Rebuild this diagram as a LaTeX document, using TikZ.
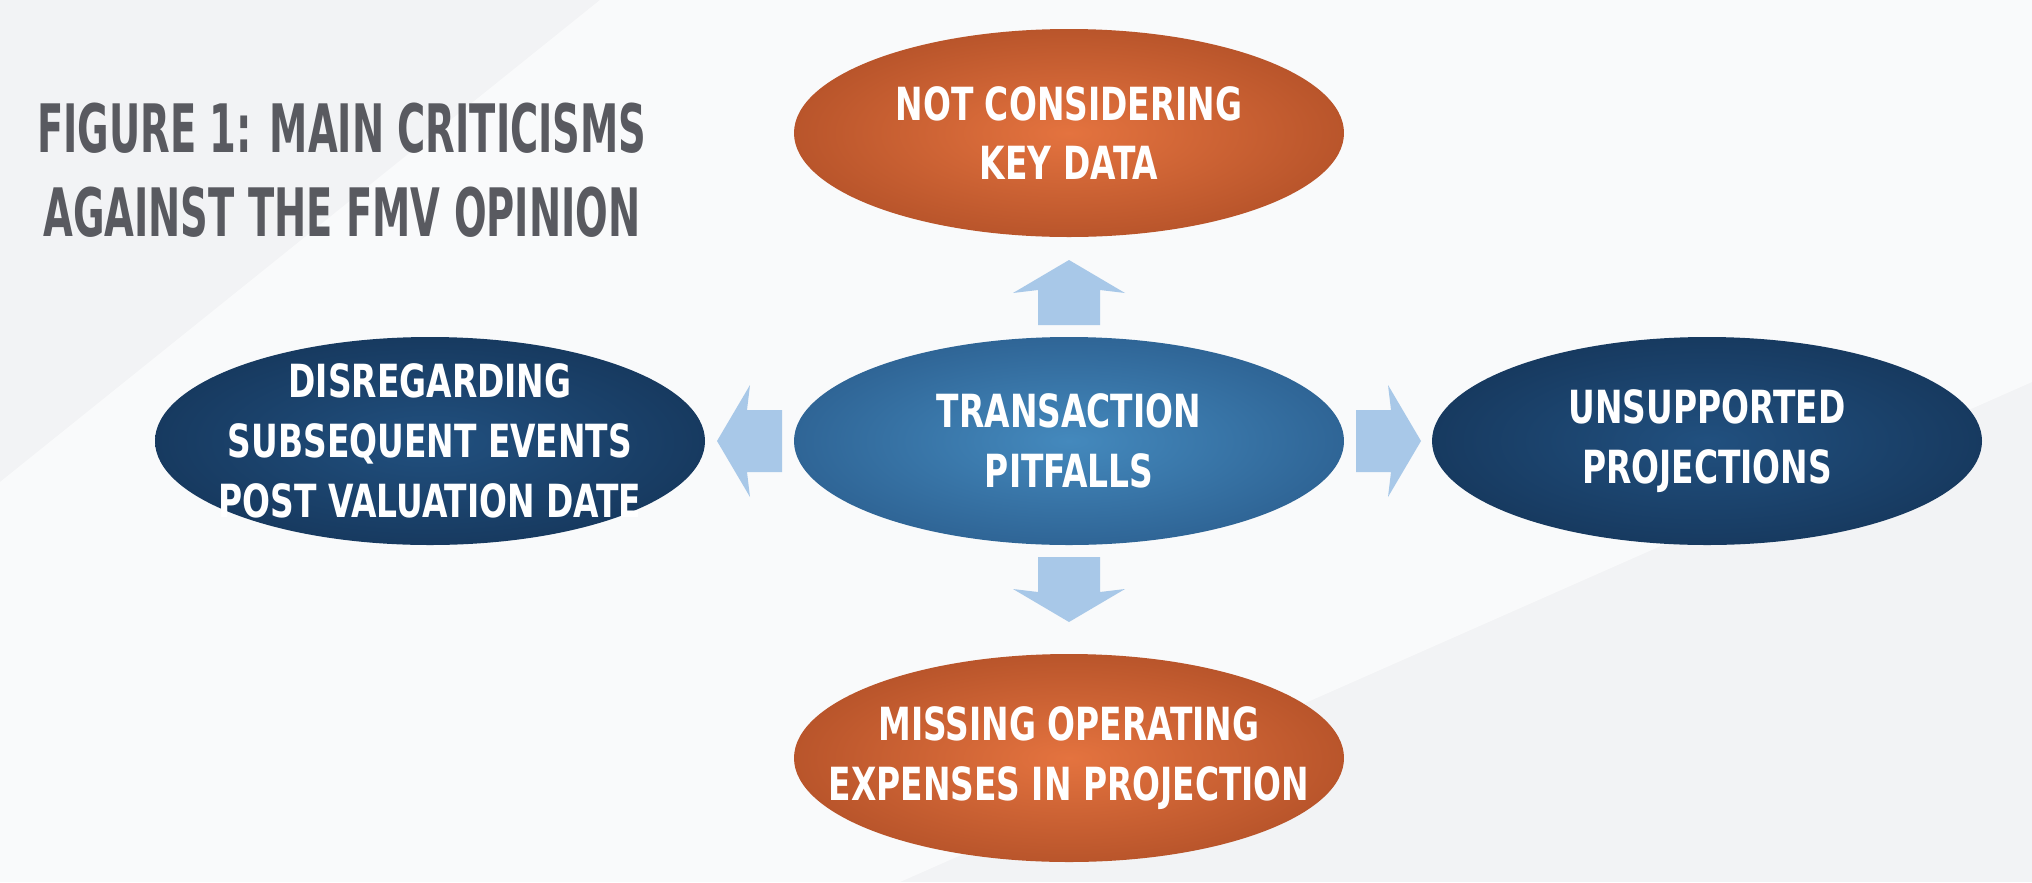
\documentclass[tikz,border=0pt]{standalone}
\usepackage{fontspec}
\setmainfont{DejaVu Sans Condensed}
\newfontfamily\bubblefont[FakeStretch=0.8]{DejaVu Sans Condensed}
\newfontfamily\titlefont[FakeStretch=0.64]{DejaVu Sans Condensed}
\definecolor{bgray}{HTML}{F2F3F5}
\definecolor{titlegray}{HTML}{595A60}
\definecolor{orangeC}{HTML}{E4733F}
\definecolor{orangeE}{HTML}{B9552B}
\definecolor{navyC}{HTML}{21507F}
\definecolor{navyE}{HTML}{173A60}
\definecolor{midC}{HTML}{4489BD}
\definecolor{midE}{HTML}{2F6596}
\definecolor{arrowblue}{HTML}{A8C8E8}
\tikzset{
  bubbletext/.style={align=center, text=white, inner sep=0pt,
    font=\bubblefont\bfseries\fontsize{13}{17}\selectfont},
  orangebubble/.style={inner color=orangeC, outer color=orangeE},
  navybubble/.style={inner color=navyC, outer color=navyE},
  midbubble/.style={inner color=midC, outer color=midE},
  blockarrow/.style={fill=arrowblue, draw=none}
}
\newcommand{\uparrowshape}{(-0.31,0) -- (-0.31,0.35) -- (-0.56,0.32) -- (0,0.65) -- (0.56,0.32) -- (0.31,0.35) -- (0.31,0) -- cycle}
\begin{document}
\begin{tikzpicture}
\useasboundingbox (0,0) rectangle (20.32,8.82);
\fill[bgray] (0,0) rectangle (20.32,8.82);
\fill[white, opacity=0.6] (0,4) -- (6,8.82) -- (20.32,8.82) -- (20.32,5) -- (9,0) -- (0,0) -- cycle;

\node[text=titlegray, font=\titlefont\bfseries\fontsize{19}{24}\selectfont, align=center] (title) at (3.42,7.12)
  {FIGURE 1: MAIN CRITICISMS\\AGAINST THE FMV OPINION};

\coordinate (c) at (10.69,4.41);
\coordinate (t) at (10.69,7.49);
\coordinate (b) at (10.69,1.24);
\coordinate (l) at (4.30,4.41);
\coordinate (r) at (17.07,4.41);
\shade[midbubble] (c) ellipse (2.75 and 1.04);
\shade[orangebubble] (t) ellipse (2.75 and 1.04);
\shade[orangebubble] (b) ellipse (2.75 and 1.04);
\shade[navybubble] (l) ellipse (2.75 and 1.04);
\shade[navybubble] (r) ellipse (2.75 and 1.04);

\node[bubbletext] (center) at (c) {TRANSACTION\\PITFALLS};
\node[bubbletext] (top) at (t) {NOT CONSIDERING\\KEY DATA};
\node[bubbletext] (bottom) at (b) {MISSING OPERATING\\EXPENSES IN PROJECTION};
\node[bubbletext] (left) at (l) {DISREGARDING\\SUBSEQUENT EVENTS\\POST VALUATION DATE};
\node[bubbletext] (right) at (r) {UNSUPPORTED\\PROJECTIONS};

% block arrows between the bubbles
\fill[blockarrow, shift={(10.69,5.57)}] \uparrowshape;
\fill[blockarrow, shift={(10.69,3.25)}, rotate=180] \uparrowshape;
\fill[blockarrow, shift={(7.82,4.41)}, rotate=90] \uparrowshape;
\fill[blockarrow, shift={(13.56,4.41)}, rotate=-90] \uparrowshape;
\end{tikzpicture}
\end{document}
